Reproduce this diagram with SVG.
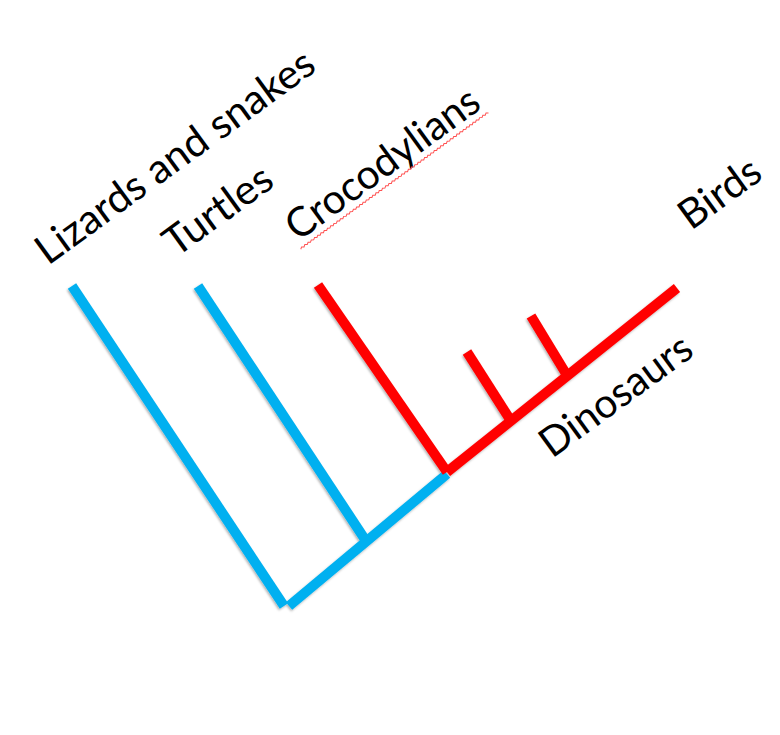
<svg xmlns="http://www.w3.org/2000/svg" width="780" height="735" viewBox="0 0 780 735">
  <style>
    .lbl { font-family: Lato, "Open Sans", "Liberation Sans", sans-serif; font-size: 41px; fill: #000; }
    .blue { stroke: #00B0F0; stroke-width: 10; stroke-linecap: butt; fill: none; }
    .red { stroke: #FF0000; stroke-width: 10; stroke-linecap: butt; fill: none; }
    .wavy { stroke: #FF5050; stroke-width: 1; fill: none; }
  </style>
  <defs>
    <filter id="sh" x="-10%" y="-10%" width="120%" height="120%">
      <feDropShadow dx="-1" dy="1.5" stdDeviation="1" flood-color="#000" flood-opacity="0.3"/>
    </filter>
  </defs>
  <rect width="780" height="735" fill="#fff"/>

  <g id="connectors" filter="url(#sh)">
    <line class="blue" x1="72" y1="286" x2="284" y2="606"/>
    <line class="blue" x1="198" y1="286" x2="366" y2="541"/>
    <line class="blue" x1="289" y1="606" x2="447" y2="474"/>
    <line class="red" x1="318" y1="285" x2="447" y2="472"/>
    <line class="red" x1="447" y1="472" x2="677" y2="288"/>
    <line class="red" x1="467" y1="352" x2="511" y2="421"/>
    <line class="red" x1="531" y1="316" x2="568" y2="377"/>
  </g>

  <g id="node-lizards">
    <text class="lbl" x="48" y="266" transform="rotate(-36 48 266)" textLength="334" lengthAdjust="spacingAndGlyphs">Lizards and snakes</text>
  </g>
  <g id="node-turtles">
    <text class="lbl" x="176" y="258" transform="rotate(-36 176 258)" textLength="124" lengthAdjust="spacingAndGlyphs">Turtles</text>
  </g>
  <g id="node-crocodylians">
    <g transform="translate(298 242) rotate(-36)">
      <text class="lbl" x="0" y="0" textLength="229" lengthAdjust="spacingAndGlyphs">Crocodylians</text>
      <path class="wavy" d="M-2,7.5 l2,-1.4 l2,1.4 l2,-1.4 l2,1.4 l2,-1.4 l2,1.4 l2,-1.4 l2,1.4 l2,-1.4 l2,1.4 l2,-1.4 l2,1.4 l2,-1.4 l2,1.4 l2,-1.4 l2,1.4 l2,-1.4 l2,1.4 l2,-1.4 l2,1.4
        l2,-1.4 l2,1.4 l2,-1.4 l2,1.4 l2,-1.4 l2,1.4 l2,-1.4 l2,1.4 l2,-1.4 l2,1.4 l2,-1.4 l2,1.4 l2,-1.4 l2,1.4 l2,-1.4 l2,1.4 l2,-1.4 l2,1.4 l2,-1.4 l2,1.4
        l2,-1.4 l2,1.4 l2,-1.4 l2,1.4 l2,-1.4 l2,1.4 l2,-1.4 l2,1.4 l2,-1.4 l2,1.4 l2,-1.4 l2,1.4 l2,-1.4 l2,1.4 l2,-1.4 l2,1.4 l2,-1.4 l2,1.4 l2,-1.4 l2,1.4
        l2,-1.4 l2,1.4 l2,-1.4 l2,1.4 l2,-1.4 l2,1.4 l2,-1.4 l2,1.4 l2,-1.4 l2,1.4 l2,-1.4 l2,1.4 l2,-1.4 l2,1.4 l2,-1.4 l2,1.4 l2,-1.4 l2,1.4 l2,-1.4 l2,1.4
        l2,-1.4 l2,1.4 l2,-1.4 l2,1.4 l2,-1.4 l2,1.4 l2,-1.4 l2,1.4 l2,-1.4 l2,1.4 l2,-1.4 l2,1.4 l2,-1.4 l2,1.4 l2,-1.4 l2,1.4 l2,-1.4 l2,1.4 l2,-1.4 l2,1.4
        l2,-1.4 l2,1.4 l2,-1.4 l2,1.4 l2,-1.4 l2,1.4 l2,-1.4 l2,1.4 l2,-1.4 l2,1.4 l2,-1.4 l2,1.4 l2,-1.4 l2,1.4 l2,-1.4 l2,1.4"/>
    </g>
  </g>
  <g id="node-birds">
    <text class="lbl" x="691" y="231" transform="rotate(-36 691 231)" textLength="91" lengthAdjust="spacingAndGlyphs">Birds</text>
  </g>
  <g id="node-dinosaurs">
    <text class="lbl" x="552" y="459" transform="rotate(-36 552 459)" textLength="178" lengthAdjust="spacingAndGlyphs">Dinosaurs</text>
  </g>
</svg>
